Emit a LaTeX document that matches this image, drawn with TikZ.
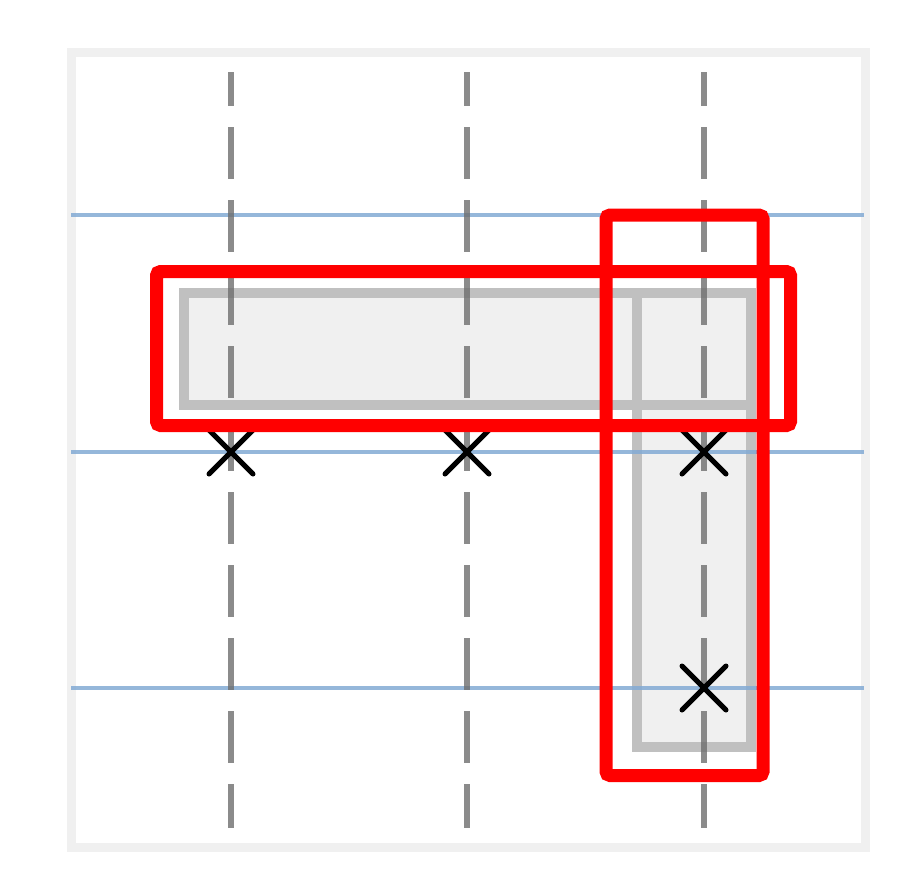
\documentclass[tikz,border=0pt]{standalone}
\usepackage{xcolor}
\usepackage{tikz}
\usetikzlibrary{arrows.meta,positioning,calc}

\definecolor{framegray}{RGB}{240,240,240}
\definecolor{boxfill}{RGB}{240,240,240}
\definecolor{boxline}{RGB}{192,192,192}
\definecolor{rowblue}{RGB}{130,170,212}
\definecolor{colgray}{RGB}{110,110,110}

\begin{document}
\begin{tikzpicture}[x=1pt,y=-1pt,
    rowline/.style={rowblue,line width=4pt,opacity=.85},
    colline/.style={colgray,line width=5.5pt,opacity=.8,
      dash pattern=on 52pt off 21pt,dash phase=18pt},
    tilebox/.style={boxline,line width=10pt},
    pick/.style={red,line width=13pt,rounded corners=4pt},
    mark x/.style={black,line width=5pt,line cap=round}]
  \useasboundingbox (0,0) rectangle (924,884);
  % outer frame
  \draw[framegray,line width=9pt] (71,52) rectangle (865,847);
  % gray tiles
  \fill[boxfill] (184,293) rectangle (751,405);
  \fill[boxfill] (637,293) rectangle (751,747);
  \draw[tilebox] (184,293) rectangle (751,405);
  \draw[tilebox] (637,293) rectangle (751,747);
  % rows
  \foreach \y in {215,452,688}
    \draw[rowline] (71,\y) -- (864,\y);
  % columns
  \foreach \x in {231,467,704}
    \draw[colline] (\x,72) -- (\x,828);
  % samples
  \foreach \x/\y in {231/452,467/452,704/452,704/688}{
    \coordinate (s-\x-\y) at (\x,\y);
    \draw[mark x] ($(s-\x-\y)+(-22,-22)$) -- ($(s-\x-\y)+(22,22)$);
    \draw[mark x] ($(s-\x-\y)+(-22,22)$) -- ($(s-\x-\y)+(22,-22)$);
  }
  % selections
  \draw[pick] (156.5,271.5) rectangle (790.5,425.5);
  \draw[pick] (606,215) rectangle (763,775.5);
\end{tikzpicture}
\end{document}
